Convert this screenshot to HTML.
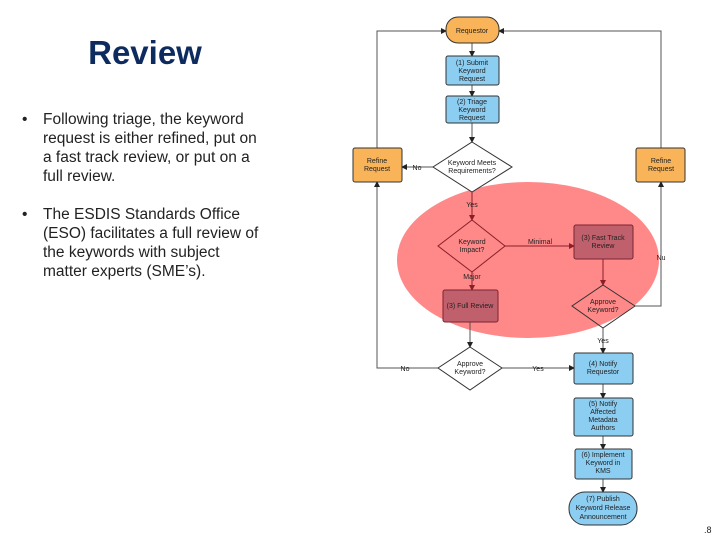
<!DOCTYPE html>
<html><head><meta charset="utf-8"><style>
body{margin:0;width:720px;height:540px;background:#fff;overflow:hidden;font-family:"Liberation Sans",sans-serif}
</style></head><body>
<svg width="720" height="540" viewBox="0 0 720 540" xmlns="http://www.w3.org/2000/svg" font-family="Liberation Sans, sans-serif">
<defs><marker id="a" markerWidth="6" markerHeight="6" refX="5" refY="3" orient="auto"><path d="M0,0L6,3L0,6z" fill="#222"/></marker>
<marker id="r" markerWidth="6" markerHeight="6" refX="5" refY="3" orient="auto"><path d="M0,0L6,3L0,6z" fill="#8a1f2a"/></marker></defs>
<text x="145" y="64" text-anchor="middle" font-size="33" font-weight="bold" fill="#0d2b5e">Review</text>
<g font-size="15.5" fill="#222">
<text x="22" y="124">•</text>
<text x="43" y="124">Following triage, the keyword</text>
<text x="43" y="143">request is either refined, put on</text>
<text x="43" y="162">a fast track review, or put on a</text>
<text x="43" y="181">full review.</text>
<text x="22" y="219">•</text>
<text x="43" y="219">The ESDIS Standards Office</text>
<text x="43" y="238">(ESO) facilitates a full review of</text>
<text x="43" y="257">the keywords with subject</text>
<text x="43" y="276">matter experts (SME’s).</text>
</g>
<ellipse cx="528" cy="260" rx="131" ry="78" fill="#ff7b7b" opacity="0.9"/>
<g stroke="#555" stroke-width="1" fill="none">
<path d="M377,148V31H446" marker-end="url(#a)"/>
<path d="M661,148V31H499" marker-end="url(#a)"/>
<path d="M472,43V56" marker-end="url(#a)"/>
<path d="M472,85V96" marker-end="url(#a)"/>
<path d="M472,123V142" marker-end="url(#a)"/>
<path d="M433,167H402" marker-end="url(#a)"/>
<path d="M635,306H661V182" marker-end="url(#a)"/>
<path d="M603,328V353" marker-end="url(#a)"/>
<path d="M470,322V347" marker-end="url(#a)"/>
<path d="M438,368H377V182" marker-end="url(#a)"/>
<path d="M502,368H574" marker-end="url(#a)"/>
<path d="M603,384V398" marker-end="url(#a)"/>
<path d="M603,436V449" marker-end="url(#a)"/>
<path d="M603,479V492" marker-end="url(#a)"/>
</g>
<g stroke="#8a1f2a" stroke-width="1" fill="none">
<path d="M472,192V220" marker-end="url(#r)"/>
<path d="M505,246H574" marker-end="url(#r)"/>
<path d="M472,272V290" marker-end="url(#r)"/>
<path d="M603,259V285" marker-end="url(#r)"/>
</g>
<g stroke="#333" stroke-width="1">
<rect x="446" y="17" width="53" height="26" rx="12" fill="#f9b45a"/>
<rect x="446" y="56" width="53" height="29" rx="2" fill="#8ccdf2"/>
<rect x="446" y="96" width="53" height="27" rx="2" fill="#8ccdf2"/>
<polygon points="472,142 512,167 472,192 433,167" fill="#fff"/>
<rect x="353" y="148" width="49" height="34" rx="2" fill="#f9b45a"/>
<rect x="636" y="148" width="49" height="34" rx="2" fill="#f9b45a"/>
<polygon points="472,220 505,246 472,272 438,246" fill="none" stroke="#8a1f2a"/>
<rect x="574" y="225" width="59" height="34" rx="2" fill="#c0606c" stroke="#7a2530"/>
<rect x="443" y="290" width="55" height="32" rx="2" fill="#c0606c" stroke="#7a2530"/>
<polygon points="603,285 635,306 603,328 572,306" fill="none"/>
<polygon points="470,347 502,368 470,390 438,368" fill="#fff"/>
<rect x="574" y="353" width="59" height="31" rx="2" fill="#8ccdf2"/>
<rect x="574" y="398" width="59" height="38" rx="2" fill="#8ccdf2"/>
<rect x="575" y="449" width="57" height="30" rx="2" fill="#8ccdf2"/>
<rect x="569" y="492" width="68" height="33" rx="16" fill="#8ccdf2"/>
</g>
<g font-size="7" text-anchor="middle" fill="#222">
<text x="472" y="33">Requestor</text>
<text x="472" y="65">(1) Submit</text><text x="472" y="73">Keyword</text><text x="472" y="81">Request</text>
<text x="472" y="104">(2) Triage</text><text x="472" y="112">Keyword</text><text x="472" y="120">Request</text>
<text x="472" y="165">Keyword Meets</text><text x="472" y="173">Requirements?</text>
<text x="377" y="163">Refine</text><text x="377" y="171">Request</text>
<text x="661" y="163">Refine</text><text x="661" y="171">Request</text>
<text x="417" y="170">No</text>
<text x="472" y="207">Yes</text>
<text x="472" y="244">Keyword</text><text x="472" y="252">Impact?</text>
<text x="540" y="244">Minimal</text>
<text x="603" y="240">(3) Fast Track</text><text x="603" y="248">Review</text>
<text x="661" y="260">Nu</text>
<text x="472" y="279">Major</text>
<text x="470" y="308">(3) Full Review</text>
<text x="603" y="304">Approve</text><text x="603" y="312">Keyword?</text>
<text x="603" y="343">Yes</text>
<text x="470" y="366">Approve</text><text x="470" y="374">Keyword?</text>
<text x="405" y="371">No</text>
<text x="538" y="371">Yes</text>
<text x="603" y="366">(4) Notify</text><text x="603" y="374">Requestor</text>
<text x="603" y="406">(5) Notify</text><text x="603" y="414">Affected</text><text x="603" y="422">Metadata</text><text x="603" y="430">Authors</text>
<text x="603" y="457">(6) Implement</text><text x="603" y="465">Keyword in</text><text x="603" y="473">KMS</text>
<text x="603" y="501">(7) Publish</text><text x="603" y="510">Keyword Release</text><text x="603" y="519">Announcement</text>
</g>
<text x="704" y="533" font-size="9" fill="#222">.8</text>
</svg>
</body></html>
